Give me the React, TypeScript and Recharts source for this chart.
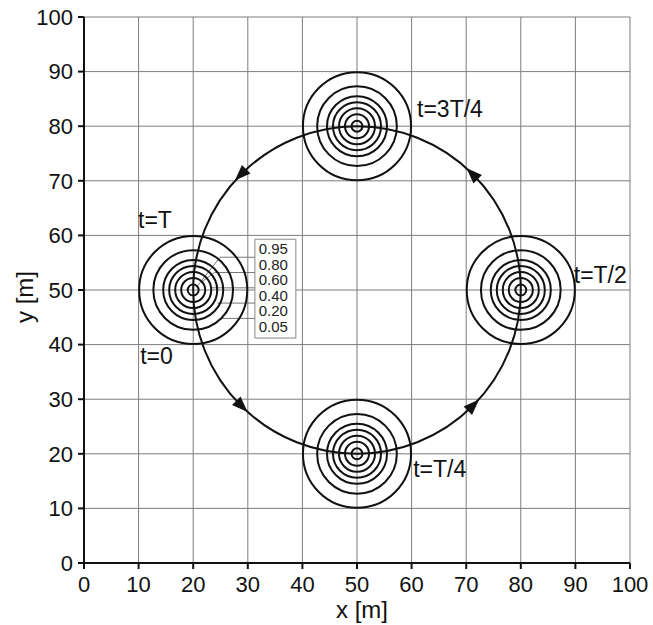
import {
  ScatterChart,
  Scatter,
  XAxis,
  YAxis,
  CartesianGrid,
  ReferenceArea,
  ReferenceLine,
  Label,
} from "recharts";

// ── data ──
const axisTicks = [0, 10, 20, 30, 40, 50, 60, 70, 80, 90, 100];

// where the concentration contours sit at the four quarter times
const contourCenters = [
  { x: 50, y: 80 },
  { x: 80, y: 50 },
  { x: 50, y: 20 },
  { x: 20, y: 50 },
];
// contour radii in metres, outer to inner
const contourRadii = [9.9, 7.3, 5.5, 4.4, 3.3, 2.2, 1.0];

// circular trajectory of the source
const trajectory = [{ x: 50, y: 50, r: 30 }];

// arrow heads on the trajectory (heading in screen degrees)
const arrowHeads = [
  { x: 28.8, y: 71.2, heading: 135 },
  { x: 28.8, y: 28.8, heading: 45 },
  { x: 71.2, y: 28.8, heading: -45 },
  { x: 71.2, y: 71.2, heading: -135 },
];

const timeLabels = [
  { x: 61.0, y: 81.6, text: "t=3T/4" },
  { x: 89.7, y: 51.3, text: "t=T/2" },
  { x: 60.3, y: 15.7, text: "t=T/4" },
  { x: 9.9, y: 61.3, text: "t=T" },
  { x: 10.3, y: 36.4, text: "t=0" },
];

const levelNames = ["0.95", "0.80", "0.60", "0.40", "0.20", "0.05"];
const levelY = [56.6, 53.7, 50.9, 48.0, 45.2, 42.3];
const levelX = 32.0;
const levelBox = { x1: 31.3, x2: 38.8, y1: 41.2, y2: 59.3 };

// leader lines from the contours to the level box
const leaders = [
  [{ x: 20.6, y: 50.5 }, { x: 24.9, y: 56.0 }, { x: 31.3, y: 56.0 }],
  [{ x: 21.5, y: 51.4 }, { x: 23.9, y: 53.2 }, { x: 31.3, y: 53.2 }],
  [{ x: 23.3, y: 50.4 }, { x: 31.3, y: 50.4 }],
  [{ x: 24.4, y: 47.6 }, { x: 31.3, y: 47.6 }],
  [{ x: 25.3, y: 44.8 }, { x: 31.3, y: 44.8 }],
];

// ── layout ──
const W = 653;
const H = 625;
const LEFT = 84;
const TOP = 17;
const PLOT = 546;
const PX = PLOT / 100; // pixels per metre, same on both axes
const FONT = "'Liberation Sans', Arial, sans-serif";

const ringShape = (radii: number[]) => (p: any) => (
  <g>
    {radii.map((r) => (
      <circle key={r} cx={p.cx} cy={p.cy} r={r * PX} fill="none" stroke="#111" strokeWidth={2} />
    ))}
  </g>
);

const trajectoryShape = (p: any) => (
  <circle cx={p.cx} cy={p.cy} r={p.payload.r * PX} fill="none" stroke="#111" strokeWidth={2} />
);

const arrowShape = (p: any) => (
  <polygon
    points="9,0 -7,-6 -7,6"
    fill="#111"
    transform={`translate(${p.cx},${p.cy}) rotate(${p.payload.heading})`}
  />
);

const timeTextShape = (p: any) => (
  <text x={p.cx} y={p.cy} fontSize={23} fontFamily={FONT} fill="#111">
    {p.payload.text}
  </text>
);

const levelTextShape = (p: any) => (
  <text x={p.cx} y={p.cy} fontSize={15} fontFamily={FONT} fill="#222">
    {p.payload.text}
  </text>
);

export default function App() {
  const levelData = levelNames.map((t, i) => ({ x: levelX, y: levelY[i], text: t }));
  const segments = leaders.flatMap((pts) => pts.slice(1).map((pt, i) => [pts[i], pt]));

  return (
    <div style={{ position: "absolute", left: 0, top: 0, width: W, height: H, background: "#fff" }}>
      <ScatterChart
        width={W}
        height={H}
        margin={{ top: TOP, right: W - LEFT - PLOT, bottom: 0, left: 0 }}
      >
        <CartesianGrid stroke="#7d7d7d" strokeWidth={1} />
        <XAxis
          type="number"
          dataKey="x"
          domain={[0, 100]}
          ticks={axisTicks}
          interval={0}
          height={H - TOP - PLOT}
          axisLine={{ stroke: "#111", strokeWidth: 2 }}
          tickLine={{ stroke: "#111", strokeWidth: 2 }}
          tickSize={6}
          tickMargin={7}
          tick={{ fontSize: 22, fill: "#111", fontFamily: FONT }}
        >
          <Label
            content={(props: any) => (
              <text x={362} y={618} textAnchor="middle" fontSize={24} fontFamily={FONT} fill="#111">
                x [m]
              </text>
            )}
          />
        </XAxis>
        <YAxis
          type="number"
          dataKey="y"
          domain={[0, 100]}
          ticks={axisTicks}
          interval={0}
          width={LEFT}
          axisLine={{ stroke: "#111", strokeWidth: 2 }}
          tickLine={{ stroke: "#111", strokeWidth: 2 }}
          tickSize={6}
          tickMargin={5}
          tick={{ fontSize: 22, fill: "#111", fontFamily: FONT }}
        >
          <Label
            content={(props: any) => (
              <text
                x={33}
                y={297}
                textAnchor="middle"
                fontSize={24}
                fontFamily={FONT}
                fill="#111"
                transform="rotate(-90 33 297)"
              >
                y [m]
              </text>
            )}
          />
        </YAxis>

        <ReferenceArea
          x1={levelBox.x1}
          x2={levelBox.x2}
          y1={levelBox.y1}
          y2={levelBox.y2}
          fill="#fff"
          fillOpacity={1}
          stroke="#888"
          strokeWidth={1}
        />
        {segments.map((s, i) => (
          <ReferenceLine key={i} segment={s} stroke="#777" strokeWidth={1} />
        ))}

        <Scatter data={trajectory} shape={trajectoryShape} isAnimationActive={false} />
        <Scatter data={contourCenters} shape={ringShape(contourRadii)} isAnimationActive={false} />
        <Scatter data={arrowHeads} shape={arrowShape} isAnimationActive={false} />
        <Scatter data={timeLabels} shape={timeTextShape} isAnimationActive={false} />
        <Scatter data={levelData} shape={levelTextShape} isAnimationActive={false} />
      </ScatterChart>
    </div>
  );
}
